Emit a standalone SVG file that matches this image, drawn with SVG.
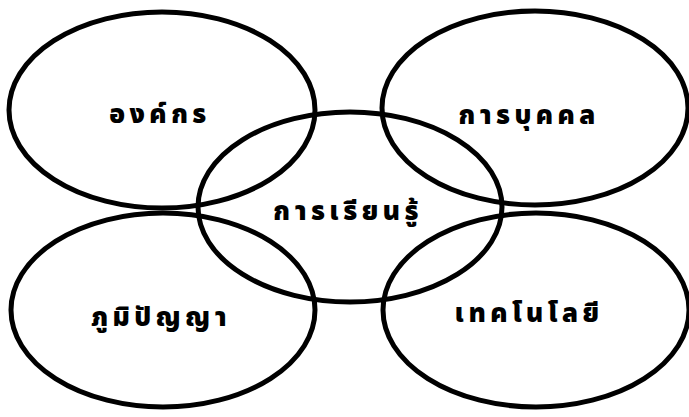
<svg xmlns="http://www.w3.org/2000/svg" width="689" height="417" viewBox="0 0 689 417">
<style>
.e{fill:none;stroke:#000;stroke-width:5}
.t{font-family:"Noto Sans Thai","Noto Sans","DejaVu Sans",sans-serif;font-weight:900;font-size:26px;fill:#000;text-anchor:middle;letter-spacing:4.5px}
</style>
<rect width="689" height="417" fill="#fff"/>
<g id="org"><ellipse class="e" cx="162" cy="110" rx="153" ry="98"/><text class="t" x="160" y="123">องค์กร</text></g>
<g id="personnel"><ellipse class="e" cx="535" cy="108" rx="153" ry="97"/><text class="t" x="529" y="124">การบุคคล</text></g>
<g id="wisdom"><ellipse class="e" cx="163" cy="310" rx="152" ry="97"/><text class="t" x="161" y="326">ภูมิปัญญา</text></g>
<g id="technology"><ellipse class="e" cx="536" cy="310" rx="153" ry="97"/><text class="t" x="529" y="322">เทคโนโลยี</text></g>
<g id="learning"><ellipse class="e" cx="350" cy="207" rx="152" ry="95"/><text class="t" x="348" y="220">การเรียนรู้</text></g>
<g id="connectors"/>
</svg>
